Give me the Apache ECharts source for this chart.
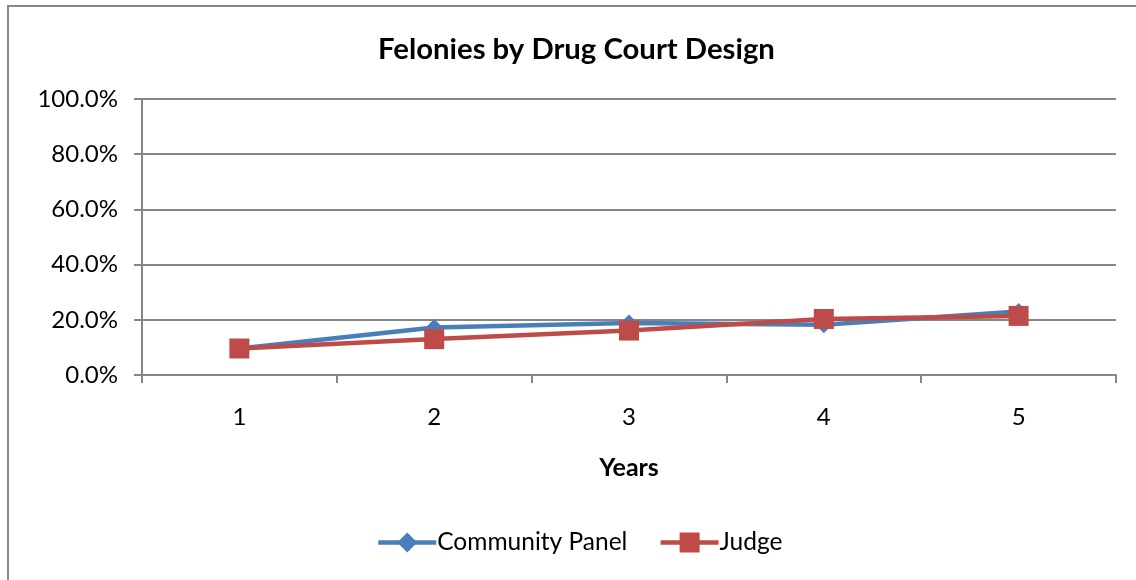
<!DOCTYPE html>
<html>
<head>
<meta charset="utf-8">
<script src="https://cdn.jsdelivr.net/npm/echarts@6/dist/echarts.min.js"></script>
<style>
  html, body { margin: 0; padding: 0; background: #fff; }
  #chart { width: 1136px; height: 580px; }
</style>
</head>
<body>
<div id="chart"></div>
<script>
// Felony rates by year for the two drug court designs
const years = ['1', '2', '3', '4', '5'];
const communityPanel = [9.6, 17.2, 18.8, 18.2, 23.0];
const judge = [9.6, 13.0, 16.1, 20.3, 21.4];
const yTicks = [0, 20, 40, 60, 80, 100];

const FONT = 'Lato, "Open Sans", sans-serif';
const chart = echarts.init(document.getElementById('chart'));

chart.setOption({
  backgroundColor: '#fff',
  animation: false,
  title: {
    text: 'Felonies by Drug Court Design',
    left: 373,
    top: 30,
    textStyle: { fontFamily: FONT, fontSize: 29.3, fontWeight: 'bold', color: '#000' }
  },
  graphic: [{
    type: 'rect',
    shape: { x: 8, y: 6, width: 1200, height: 700 },
    style: { fill: 'none', stroke: '#868686', lineWidth: 2 },
    silent: true
  }],
  grid: { left: 142, right: 20, top: 99, bottom: 205, containLabel: false },
  legend: {
    bottom: 20,
    left: 371,
    itemWidth: 58,
    itemHeight: 25,
    itemGap: 31,
    lineStyle: { width: 4.5 },
    textStyle: { fontFamily: FONT, fontSize: 24.5, color: '#000', padding: [0, 0, 0, -4] },
    data: ['Community Panel', 'Judge']
  },
  xAxis: {
    type: 'category',
    data: years,
    boundaryGap: true,
    name: 'Years',
    nameLocation: 'middle',
    nameGap: 80,
    nameTextStyle: { fontFamily: FONT, fontSize: 25, fontWeight: 'bold', color: '#000' },
    axisLine: { lineStyle: { color: '#868686', width: 2 } },
    axisTick: { show: true, length: 8, alignWithLabel: false, lineStyle: { color: '#868686', width: 2 } },
    axisLabel: { fontFamily: FONT, fontSize: 24, color: '#000', margin: 30 },
    splitLine: { show: false }
  },
  yAxis: {
    type: 'value',
    min: 0,
    max: 100,
    interval: 20,
    axisLine: { show: true, lineStyle: { color: '#868686', width: 2 } },
    axisTick: { show: true, length: 8, inside: false, lineStyle: { color: '#868686', width: 2 } },
    axisLabel: {
      fontFamily: FONT, fontSize: 24, color: '#000', margin: 24,
      formatter: v => yTicks.includes(v) ? v.toFixed(1) + '%' : ''
    },
    splitLine: { show: true, lineStyle: { color: '#868686', width: 2 } }
  },
  series: [
    {
      name: 'Community Panel',
      type: 'line',
      data: communityPanel,
      symbol: 'diamond',
      symbolSize: 17,
      itemStyle: { color: '#4A7EBB' },
      lineStyle: { color: '#4A7EBB', width: 4.5 },
      z: 2
    },
    {
      name: 'Judge',
      type: 'line',
      data: judge,
      symbol: 'rect',
      symbolSize: 20,
      itemStyle: { color: '#BE4B48' },
      lineStyle: { color: '#BE4B48', width: 4.5 },
      z: 3
    }
  ]
});
</script>
</body>
</html>
